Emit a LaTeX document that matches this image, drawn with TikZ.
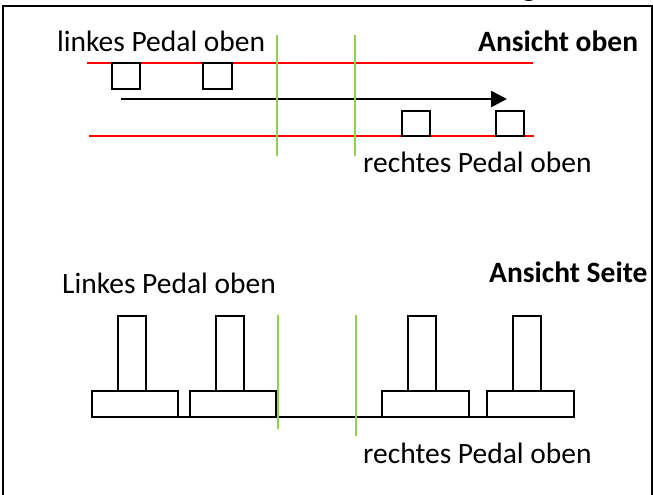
\documentclass[tikz,border=0pt]{standalone}
\usepackage{fontspec}
\setmainfont{Carlito}
\usetikzlibrary{arrows.meta}
\begin{document}
\begin{tikzpicture}[x=1pt,y=-1pt,
  lbl/.style={anchor=base west,inner sep=0pt,font=\fontsize{29.5}{34}\selectfont},
  ttl/.style={lbl,font=\fontsize{29.5}{34}\selectfont\bfseries},
  pedal/.style={draw=black,line width=2pt},
  redline/.style={draw=red,line width=1.6pt},
  frame/.style={draw=black,line width=2.5pt}]
\useasboundingbox (0,0) rectangle (653,495);
\definecolor{lgreen}{RGB}{146,208,80}
\tikzset{greenline/.style={draw=lgreen,line width=1.8pt}}
% frame
\draw[frame] (3,500) -- (3,6) -- (652,6) -- (652,500);
% partially visible title glyph
\node[ttl] (title) at (522,-3) {g};
% top view
\draw[redline] (87,63) -- (533,63);
\draw[redline] (89,136) -- (534,136);
\draw[pedal] (112,63) rectangle (140,89);
\draw[pedal] (203,63) rectangle (232,89);
\draw[pedal] (402,111) rectangle (430,136);
\draw[pedal] (496,111) rectangle (524,136);
\coordinate (as) at (121,99);
\coordinate (ae) at (507,99);
\draw[line width=2.4pt,-{Triangle[length=16pt,width=16pt]}] (as) -- (ae);
\draw[greenline] (277,35) -- (277,156);
\draw[greenline] (355,35) -- (355,156);
\node[lbl] (lo) at (57,52) {linkes Pedal oben};
\node[ttl] (ao) at (478,52) {Ansicht oben};
\node[lbl] (ro) at (363,172) {rechtes Pedal oben};
% side view
\draw[line width=1.8pt] (118,417) -- (563,417);
\draw[pedal] (118,316) rectangle (146,391);
\draw[pedal] (216,316) rectangle (244,391);
\draw[pedal] (408,316) rectangle (436,391);
\draw[pedal] (513,316) rectangle (541,391);
\draw[pedal] (92,391) rectangle (178,417);
\draw[pedal] (190,391) rectangle (276,417);
\draw[pedal] (382,391) rectangle (469,417);
\draw[pedal] (487,391) rectangle (574,417);
\draw[greenline] (278,315) -- (278,429);
\draw[greenline] (356,315) -- (356,436);
\node[lbl] (ls) at (62,293) {Linkes Pedal oben};
\node[ttl] (as2) at (489,282) {Ansicht Seite};
\node[lbl] (rs) at (363,463) {rechtes Pedal oben};
\end{tikzpicture}
\end{document}
